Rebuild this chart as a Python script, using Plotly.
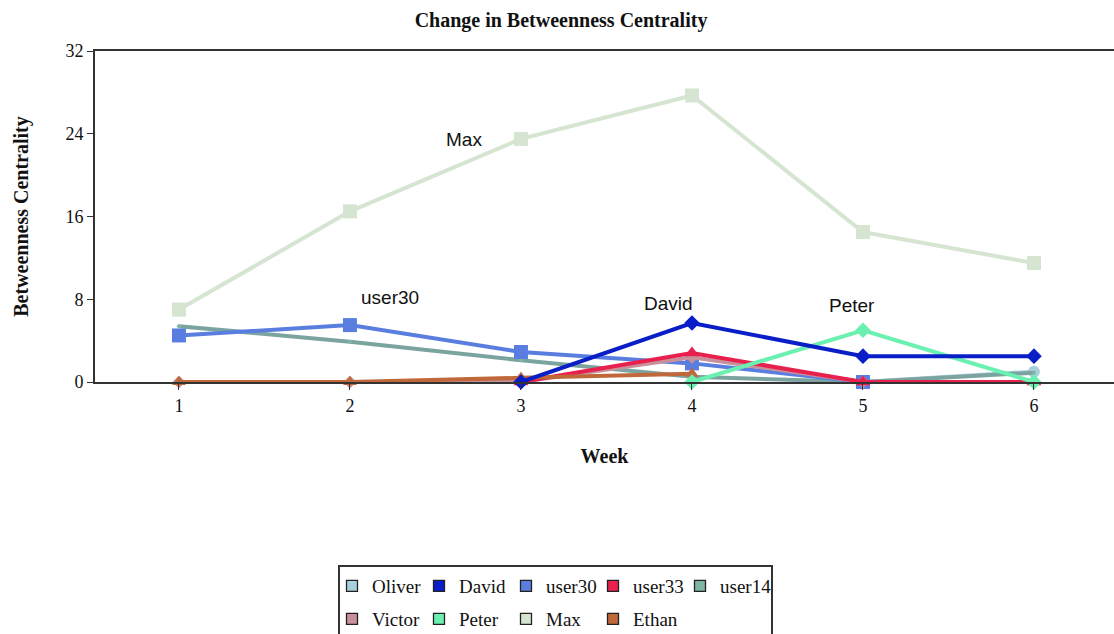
import plotly.graph_objects as go

weeks = [1, 2, 3, 4, 5, 6]
row1_names = ["Oliver", "David", "user30", "user33", "user14"]
row2_names = ["Victor", "Peter", "Max", "Ethan"]

oliver = [None, None, None, None, 0, 1.0]
david = [None, None, 0, 5.7, 2.5, 2.5]
user30 = [4.5, 5.5, 2.9, 1.8, 0, None]
user33 = [None, None, 0, 2.8, 0, 0]
user14 = [5.4, 3.9, 2.1, 0.5, 0, 0.9]
victor = [0, 0, 0, 2.4, 0, 0]
peter = [None, None, None, 0, 5.0, 0]
maxv = [7.0, 16.5, 23.5, 27.7, 14.5, 11.5]
ethan = [0, 0, 0.4, 0.8, None, None]

series = {
    "Oliver": oliver, "David": david, "user30": user30, "user33": user33,
    "user14": user14, "Victor": victor, "Peter": peter, "Max": maxv, "Ethan": ethan,
}
colors = {
    "Oliver": "#a9cfdc", "David": "#0a1ec8", "user30": "#5a7ee0", "user33": "#e8204e",
    "user14": "#7fb6a4", "Victor": "#c8909a", "Peter": "#6af0b0", "Max": "#d6e4d2",
    "Ethan": "#c0683a",
}
line_colors = dict(colors)
line_colors["user14"] = "#7ba4a0"
symbols = {
    "Oliver": "circle", "David": "diamond", "user30": "square", "user33": "triangle-up",
    "user14": "circle", "Victor": "diamond", "Peter": "diamond", "Max": "square",
    "Ethan": "triangle-up",
}
sizes = {
    "Oliver": 12, "David": 12, "user30": 14, "user33": 13, "user14": 4,
    "Victor": 10, "Peter": 12, "Max": 14, "Ethan": 12,
}

# callout labels and where they sit (week, value)
callout_text = ["Max", "user30", "David", "Peter"]
callout_week = [2.667, 2.234, 3.865, 4.935]
callout_value = [23.4, 8.2, 7.55, 7.35]

fig = go.Figure()

draw_order = ["Max", "Oliver", "user14", "user30", "Victor", "user33", "Ethan", "Peter", "David"]
for n in draw_order:
    fig.add_trace(go.Scatter(
        x=weeks, y=series[n], mode="lines+markers", name=n, showlegend=False,
        line=dict(color=line_colors[n], width=4),
        marker=dict(symbol=symbols[n], size=sizes[n], color=colors[n]),
        cliponaxis=False, connectgaps=False,
    ))

for leg, group in (("legend", row1_names), ("legend2", row2_names)):
    for n in group:
        fig.add_trace(go.Scatter(
            x=[None], y=[None], mode="markers", name=n, showlegend=True, legend=leg,
            marker=dict(symbol="square", size=11, color=colors[n],
                        line=dict(color="#222222", width=1.3)),
        ))
# blank spacer entry so the last legend label is not cut off
fig.add_trace(go.Scatter(
    x=[None], y=[None], mode="markers", name=" ", showlegend=True, legend="legend",
    marker=dict(symbol="square", size=11, color="rgba(0,0,0,0)",
                line=dict(color="rgba(0,0,0,0)", width=0)),
    hoverinfo="skip",
))

for t, xx, yy in zip(callout_text, callout_week, callout_value):
    fig.add_annotation(x=xx, y=yy, text=t, showarrow=False, xanchor="center", yanchor="middle",
                       font=dict(family="Liberation Sans, Arial", size=19, color="#111111"))

serif = "Liberation Serif, Times New Roman, serif"

# legend frame
fig.add_shape(type="rect", xref="paper", yref="paper",
              x0=(339 - 95) / 1019, x1=(772 - 95) / 1019,
              y0=(382 - 645) / 331, y1=(382 - 566) / 331,
              line=dict(color="#333333", width=2), fillcolor="rgba(0,0,0,0)")

legend_common = dict(
    orientation="h", xanchor="left", yanchor="top", xref="paper", yref="paper",
    bgcolor="rgba(0,0,0,0)", borderwidth=0,
    entrywidth=42, entrywidthmode="pixels", itemwidth=30,
    font=dict(family=serif, size=19, color="#111111"),
)

fig.update_layout(
    template="none",
    width=1114, height=634,
    margin=dict(l=95, r=0, t=51, b=252, autoexpand=False),
    paper_bgcolor="white", plot_bgcolor="white",
    title=dict(text="<b>Change in Betweenness Centrality</b>", x=0.5036, xanchor="center",
               y=1 - 20 / 634, yanchor="middle",
               font=dict(family=serif, size=20, color="#111111")),
    xaxis=dict(range=[0.509, 6.468], tickvals=weeks, ticktext=[str(w) for w in weeks],
               showgrid=False, zeroline=False, showline=True, linecolor="#333333", linewidth=2,
               mirror=True, ticks="outside", ticklen=6, tickcolor="#333333", automargin=False,
               tickfont=dict(family=serif, size=18, color="#111111"),
               title=dict(text="<b>Week</b>", standoff=34,
                          font=dict(family=serif, size=20, color="#111111"))),
    yaxis=dict(range=[0, 32], tickvals=[0, 8, 16, 24, 32],
               showgrid=False, zeroline=False, showline=True, linecolor="#333333", linewidth=2,
               ticks="outside", ticklen=6, tickcolor="#333333", automargin=False,
               tickfont=dict(family=serif, size=18, color="#111111"),
               title=dict(text="<b>Betweenness Centrality</b>", standoff=31,
                          font=dict(family=serif, size=20, color="#111111"))),
    legend=dict(x=(332 - 95) / 1019, y=(382 - 567) / 331, **legend_common),
    legend2=dict(x=(332 - 95) / 1019, y=(382 - 600) / 331, **legend_common),
)

fig.write_html("out.html")
